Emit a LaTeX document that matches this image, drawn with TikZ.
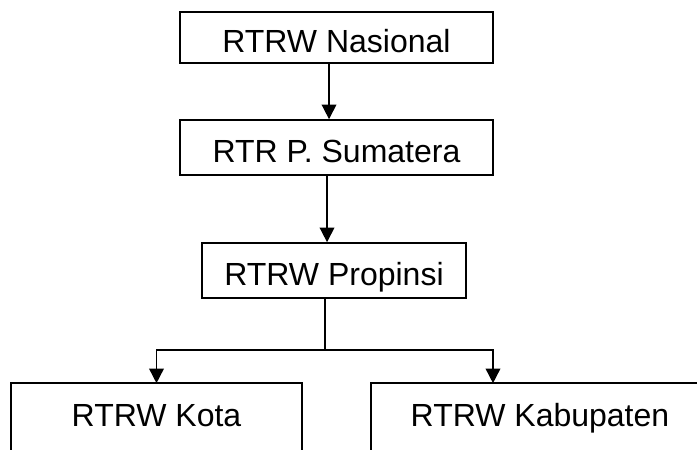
\documentclass[tikz,border=0pt]{standalone}
\usepackage{fontspec}
\setmainfont{Liberation Sans}
\usetikzlibrary{arrows.meta}
\tikzset{>={Triangle[length=11pt,width=11pt]}}
\tikzset{
  garis/.style={line width=1.2pt},
  kotak/.style={garis,draw,inner sep=0pt,minimum height=41.25pt,
    text height=23pt,text depth=0pt,font=\fontsize{24}{28}\selectfont},
  terbuka/.style={kotak,draw=none}
}

\begin{document}
\begin{tikzpicture}[x=0.75pt,y=-0.75pt]
\useasboundingbox (0,0) rectangle (697,450);
\clip (0,0) rectangle (697,450);
\node[kotak,minimum width=234.75pt,minimum height=38.25pt] (nas) at (336.5,37.5) {RTRW Nasional};
\node[kotak,minimum width=234.75pt] (sum) at (336.5,147.5) {RTR P. Sumatera};
\node[kotak,minimum width=198pt] (prop) at (334,270.5) {RTRW Propinsi};
\node[terbuka,minimum width=216.75pt] (kota) at (156.5,411.5) {RTRW Kota};
\node[terbuka,minimum width=252pt] (kab) at (540,411.5) {RTRW Kabupaten};
% kotak bawah terpotong
\draw[garis] ([yshift=-30pt]kota.south west) -- (kota.north west) -- (kota.north east) -- ([yshift=-30pt]kota.south east);
\draw[garis] ([yshift=-30pt]kab.south west) -- (kab.north west) -- (kab.north east) -- ([yshift=-30pt]kab.south east);
% panah
\draw[garis,->] ([xshift=-5.6pt]nas.south) -- ([xshift=-5.6pt]nas.south |- sum.north);
\draw[garis,->] ([xshift=-7.1pt]sum.south) -- ([xshift=-7.1pt]sum.south |- prop.north);
\coordinate (cabang) at (325,350);
\draw[garis] (cabang |- prop.south) -- (cabang);
\draw[garis,->] (cabang) -| (kota.north);
\draw[garis,->] (cabang) -| ([xshift=-35.25pt]kab.north);
\end{tikzpicture}
\end{document}
